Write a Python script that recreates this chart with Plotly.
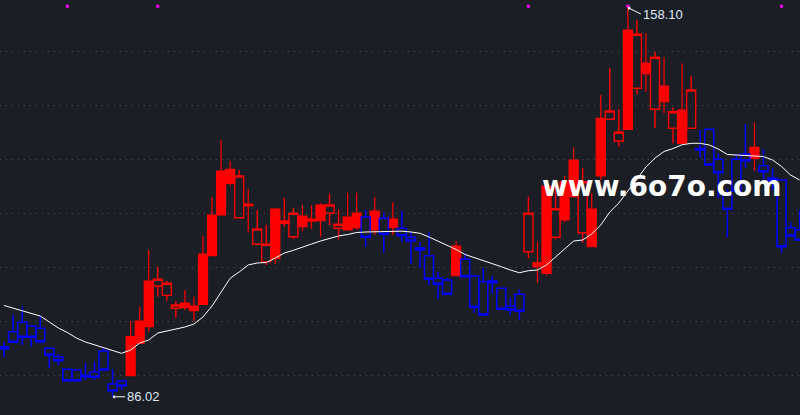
import plotly.graph_objects as go

# ---- data (price units) ----
idx = list(range(89))
style = (["B"] * 14 + ["F"] * 3 + ["H"] * 3 + ["F"] * 6 + ["H", "F", "H", "H", "F", "H", "H", "F", "F", "F", "H", "H", "F", "F",
         "B", "F", "B", "F"] + ["B"] * 6 + ["F"] + ["B"] * 7 +
         ["H", "F", "F", "H", "F", "F", "H", "F", "F", "H", "H", "F", "H", "F", "H", "F", "H", "F", "H"] +
         ["B"] * 6 + ["F"] + ["B"] * 5)

opens = [95.30, 98.07, 99.81, 99.13, 98.70, 95.00, 93.44, 91.11, 90.98, 90.00,
         90.61, 94.50, 88.39, 88.94, 89.93, 95.93, 99.00, 106.54, 104.81, 102.41,
         102.52, 101.96, 103.15, 112.15, 119.69, 125.56, 119.19, 121.41, 114.26, 111.04,
         111.67, 118.15, 115.67, 117.52, 118.57, 118.63, 120.00, 117.22, 116.91, 117.33,
         119.31, 116.91, 119.07, 117.41, 117.22, 115.56, 113.63, 112.15, 107.96, 107.65,
         108.44, 111.48, 108.39, 107.33, 107.46, 106.11, 102.83, 105.00, 112.89, 110.11,
         108.89, 115.56, 118.76, 123.07, 116.41, 113.81, 126.91, 137.41, 133.39, 135.56,
         143.15, 145.85, 139.26, 140.67, 135.74, 132.96, 135.74, 132.00, 135.56, 130.00,
         123.39, 130.00, 130.98, 130.19, 128.81, 126.48, 126.17, 117.33, 116.91]
highs = [96.17, 101.17, 102.70, 99.13, 101.17, 95.00, 93.94, 91.11, 90.98, 92.22,
         92.52, 95.30, 91.11, 88.94, 100.11, 102.70, 113.20, 110.11, 107.46, 103.76,
         105.80, 104.56, 115.80, 123.07, 133.57, 129.69, 128.02, 124.50, 120.61, 117.83,
         121.04, 122.89, 121.04, 121.54, 121.54, 121.85, 123.57, 120.61, 123.81, 123.81,
         120.61, 123.07, 120.11, 122.04, 120.43, 116.59, 114.74, 116.48, 109.19, 108.00,
         114.87, 112.59, 108.39, 109.81, 108.39, 106.11, 104.37, 105.93, 123.07, 114.69,
         125.50, 125.00, 126.91, 132.22, 128.33, 123.70, 141.91, 146.85, 139.26, 158.10,
         155.80, 153.33, 149.93, 148.89, 139.63, 147.78, 145.43, 135.43, 135.56, 131.11,
         124.50, 131.00, 136.54, 136.78, 131.85, 128.33, 126.17, 118.39, 120.61]
lows = [93.39, 95.98, 95.61, 95.30, 95.93, 91.30, 91.91, 89.00, 89.00, 89.13,
        89.13, 90.98, 86.02, 87.28, 89.93, 95.93, 98.07, 104.56, 103.81, 100.67,
        102.09, 100.06, 103.15, 112.15, 119.69, 125.11, 119.19, 116.41, 114.26, 110.43,
        110.61, 117.52, 115.24, 116.72, 117.09, 115.67, 117.83, 115.19, 116.91, 116.91,
        113.81, 115.98, 112.70, 115.98, 114.74, 110.56, 109.81, 106.72, 104.13, 105.00,
        108.44, 108.26, 101.59, 101.17, 105.00, 102.22, 101.17, 100.24, 111.67, 107.04,
        108.44, 115.19, 118.39, 123.07, 114.56, 113.81, 126.17, 137.41, 132.33, 135.56,
        142.04, 142.52, 135.74, 138.52, 132.96, 132.96, 135.74, 130.24, 128.94, 122.78,
        115.56, 124.13, 128.33, 127.89, 126.17, 124.31, 112.70, 115.80, 115.06]
closes = [94.93, 96.11, 97.04, 97.04, 96.22, 93.76, 92.70, 89.00, 89.00, 89.74,
          89.63, 90.98, 87.09, 88.02, 97.15, 100.06, 107.46, 107.78, 107.04, 103.02,
          103.39, 102.83, 112.46, 119.69, 127.83, 128.15, 126.91, 121.72, 117.09, 114.26,
          120.80, 118.57, 120.00, 119.50, 118.94, 121.54, 121.54, 117.96, 119.31, 120.06,
          115.56, 120.43, 116.11, 118.94, 115.85, 114.87, 113.20, 107.78, 106.85, 105.00,
          113.94, 108.26, 102.59, 101.17, 107.15, 102.22, 102.09, 101.85, 120.00, 110.85,
          125.06, 120.85, 125.85, 129.87, 125.85, 120.80, 137.59, 138.94, 135.00, 153.94,
          153.15, 147.83, 148.89, 143.57, 138.81, 139.13, 142.83, 131.72, 128.94, 127.52,
          120.74, 124.13, 129.74, 132.22, 127.70, 126.04, 113.81, 115.80, 115.06]
ma = [102.93, 102.46, 102.00, 101.54, 100.98, 99.87, 98.76, 97.93, 96.91, 96.17,
      95.61, 95.15, 94.50, 94.07, 94.69, 95.98, 96.54, 97.83, 98.20, 98.57,
      98.94, 99.50, 100.80, 102.83, 105.43, 107.96, 109.13, 110.43, 110.80, 110.89,
      111.72, 112.65, 113.15, 113.67, 114.31, 114.87, 115.33, 115.80, 116.07, 116.44,
      116.54, 116.59, 116.63, 116.69, 116.69, 116.54, 116.30, 115.61, 114.87, 114.04,
      113.30, 112.37, 111.81, 111.35, 110.70, 110.11, 109.50, 109.00, 109.37, 109.50,
      110.43, 111.91, 113.39, 114.87, 115.06, 116.17, 117.83, 120.24, 121.91, 124.13,
      126.35, 128.57, 130.24, 131.44, 132.00, 132.70, 132.96, 132.96, 132.65, 131.91,
      130.89, 130.80, 130.80, 130.67, 130.52, 129.87, 128.67, 127.09, 126.17]
signal_idx = [7, 17, 58, 69, 86]
signal_level = 158.35
max_idx, max_label = 69, "158.10"
min_idx, min_label = 12, "86.02"
watermark = "www.6o7o.com"

BG = "#1b1e25"
RED = "#ff0000"
BLUE = "#0000ff"
CLEAR = "rgba(0,0,0,0)"

fig = go.Figure()


def add_group(code, line_color, fill_color, lw):
    sel = [i for i in idx if style[i] == code]
    side = dict(line=dict(color=line_color, width=lw), fillcolor=fill_color)
    fig.add_trace(go.Candlestick(
        x=[idx[i] for i in sel],
        open=[opens[i] for i in sel], high=[highs[i] for i in sel],
        low=[lows[i] for i in sel], close=[closes[i] for i in sel],
        increasing=side, decreasing=side, whiskerwidth=0,
        hoverinfo="skip", showlegend=False))


add_group("F", RED, RED, 1.2)
add_group("H", RED, CLEAR, 1.4)
add_group("B", BLUE, CLEAR, 1.5)

fig.add_trace(go.Scatter(x=idx, y=ma, mode="lines",
                         line=dict(color="#ffffff", width=1),
                         hoverinfo="skip", showlegend=False))
fig.add_trace(go.Scatter(x=signal_idx, y=[signal_level] * len(signal_idx), mode="markers",
                         marker=dict(symbol="square", size=3, color="#ff00ff", line=dict(width=0)),
                         hoverinfo="skip", showlegend=False))

label_font = dict(family="Liberation Sans, Arial, sans-serif", size=13, color="#dfe9f6")
fig.add_annotation(x=max_idx, y=highs[max_idx], text=max_label, showarrow=True,
                   ax=13, ay=6.5, xanchor="left", yanchor="middle",
                   arrowhead=1, arrowsize=0.7, arrowwidth=1, arrowcolor="#ffffff",
                   font=label_font, standoff=0, startstandoff=0)
fig.add_annotation(x=min_idx, y=lows[min_idx], text=min_label, showarrow=True,
                   ax=12.5, ay=0, xanchor="left", yanchor="middle",
                   arrowhead=1, arrowsize=0.7, arrowwidth=1, arrowcolor="#ffffff",
                   font=label_font, standoff=0, startstandoff=0)
fig.add_annotation(xref="paper", yref="paper", x=0.827, y=0.551,
                   text="<b>" + watermark + "</b>", showarrow=False,
                   xanchor="center", yanchor="middle",
                   font=dict(family="DejaVu Sans", size=28, color="#ffffff"))

fig.update_layout(
    width=800, height=415, margin=dict(l=0, r=0, t=0, b=0),
    paper_bgcolor=BG, plot_bgcolor=BG, showlegend=False,
    boxgap=0, boxgroupgap=0, hovermode=False,
    xaxis=dict(range=[-0.4535, 88.04], showgrid=False, zeroline=False,
               showticklabels=False, ticks="", rangeslider=dict(visible=False),
               showline=False),
    yaxis=dict(range=[82.65, 159.5], tick0=0, dtick=10, showgrid=True,
               gridcolor="#4a4f5a", gridwidth=1, griddash="1px,5px",
               zeroline=False, showticklabels=False, ticks="", showline=False),
)

fig.write_html("out.html", config={"displayModeBar": False},
               post_script="document.body.style.margin='0px';document.body.style.background='" + BG + "';")
